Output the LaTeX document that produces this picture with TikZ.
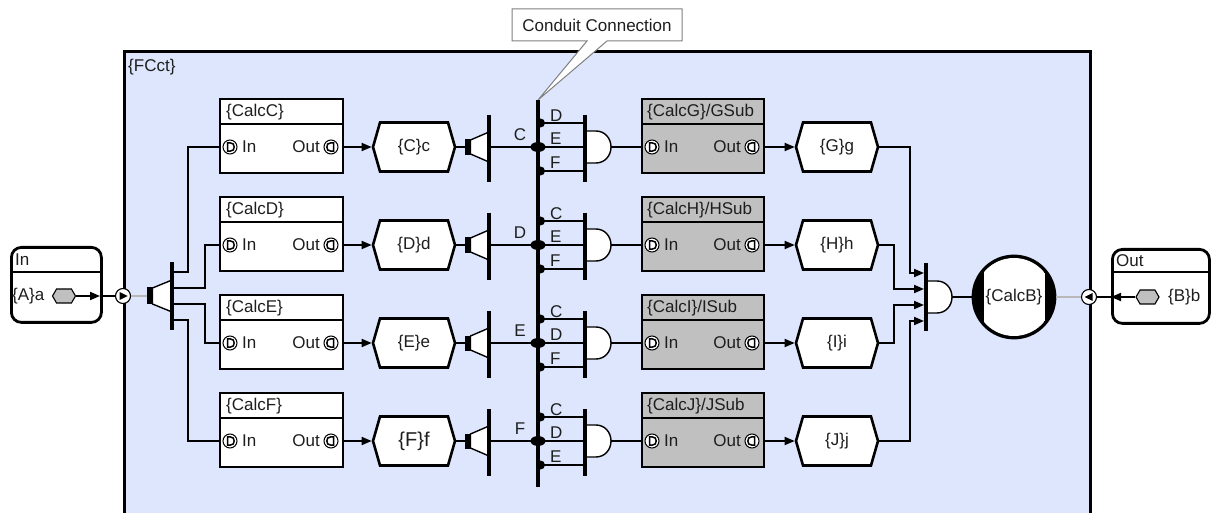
\documentclass[tikz,border=0pt]{standalone}
\usepackage{fontspec}
\setmainfont{Liberation Sans}
\usetikzlibrary{shapes.symbols,arrows.meta,calc}
\definecolor{bgblue}{RGB}{221,230,252}
\definecolor{subgrey}{RGB}{192,192,192}
\definecolor{wiregrey}{RGB}{185,185,185}
\definecolor{txt}{RGB}{30,30,30}
\tikzset{
  dport/.pic={\draw[line width=1pt, fill=white] (0,0) circle (7);
    \draw[line width=1.5pt] (-2.5,-4.2) -- (-2.5,4.2) -- (0,4.2) .. controls (3,4.2) and (4.2,2.4) .. (4.2,0) .. controls (4.2,-2.4) and (3,-4.2) .. (0,-4.2) -- cycle;},
  oport/.pic={\draw[line width=1pt, fill=white] (0,0) circle (7);
    \draw[line width=1.5pt] (2.5,-4.2) -- (2.5,4.2) -- (0,4.2) .. controls (-3,4.2) and (-4.2,2.4) .. (-4.2,0) .. controls (-4.2,-2.4) and (-3,-4.2) .. (0,-4.2) -- cycle;}
}
\begin{document}
\begin{tikzpicture}[x=1pt,y=-1pt,
  every node/.style={font=\fontsize{17}{20}\selectfont, text=txt, inner sep=0pt},
  wire/.style={line width=1.8pt, draw=black},
  greywire/.style={line width=1.8pt, draw=wiregrey},
  arr/.style={wire,-{Triangle[length=10pt,width=8pt]}},
  calcbox/.style={rectangle, draw=black, line width=2.8pt, fill=white, minimum width=123pt, minimum height=74pt},
  subbox/.style={calcbox, fill=subgrey, minimum width=122pt},
  hexa/.style={shape=signal, signal to=west and east, signal pointer angle=148, draw=black, line width=2.6pt, fill=white, minimum width=82pt, minimum height=49pt},
  minihex/.style={shape=signal, signal to=west and east, signal pointer angle=120, draw=black, line width=1.1pt, fill=subgrey, minimum width=23pt, minimum height=14pt},
  busbar/.style={line width=3.8pt, draw=black},
  sep/.style={line width=1.5pt, draw=black},
  portc/.style={circle, draw=black, fill=white, line width=1.1pt, minimum size=15pt},
  outerblk/.style={rectangle, draw=black, line width=2.8pt, rounded corners=10pt, fill=white, anchor=north west},
  gate/.style={line width=1.4pt, draw=black, fill=white}
]
\useasboundingbox (0,0) rectangle (1211,513);
\clip (0,0) rectangle (1211,513);
\fill[white] (0,0) rectangle (1211,513);

% subsystem frame
\node[rectangle, draw=black, line width=2.8pt, fill=bgblue, minimum width=966pt, minimum height=500pt, anchor=north west] (fcct) at (123,50) {};
\node[anchor=west] (fcctlbl) at (128,67) {\{FCct\}};

% callout
\draw[draw=gray, line width=1pt, fill=white] (512,9) -- (682,9) -- (682,41) -- (607,41) -- (538,100) -- (587,41) -- (512,41) -- cycle;
\node (callout) at (597,25) {Conduit Connection};

% conduit bus
\coordinate (busTop) at (538,100);
\coordinate (busBot) at (538,487);
\draw[busbar] (busTop) -- (busBot);

% In block
\node[outerblk, minimum width=90pt, minimum height=75pt] (inblk) at (10,246) {};
\draw[sep] (10,272) -- (100,272);
\node[anchor=west] (inlbl) at (15,260) {In};
\node[anchor=west] (atext) at (12,296) {\{A\}a};
\node[minihex] (ahex) at (64,296) {};
\node[portc] (inport) at (123,296) {};
\fill (119.5,292) -- (127.5,296) -- (119.5,300) -- cycle;
\coordinate (inedge) at (100,296);
\draw[arr] (ahex.east) -- (inedge);
\draw[wire] (inedge) -- (inport.west);

% splitter
\coordinate (splin) at (147,296);
\draw[greywire] (inport.east) -- (splin);
\fill (147,287.5) rectangle (152.5,304.5);
\draw[gate] (152.5,288) -- (172,280) -- (172,312) -- (152.5,304) -- cycle;
\draw[busbar] (172,262) -- (172,330);
\coordinate (so1) at (172,272);
\coordinate (so2) at (172,288);
\coordinate (so3) at (172,304);
\coordinate (so4) at (172,320);

% rows
\foreach \rn/\rl/\ry/\la/\lb/\lc/\on/\ol/\sb/\fs in {C/c/147/D/E/F/G/g/GSub/17, D/d/245/C/E/F/H/h/HSub/17, E/e/343/C/D/F/I/i/ISub/17, F/f/441/C/D/E/J/j/JSub/20}{
  % left calc block
  \node[calcbox] (calc\rn) at (281.5,\ry-11) {};
  \draw[sep] (220,\ry-23) -- (343,\ry-23);
  \node[anchor=west] (ttl\rn) at (226,\ry-35) {\{Calc\rn\}};
  \pic at (230,\ry) {dport};
  \node[anchor=west] (inl\rn) at (242,\ry) {In};
  \node[anchor=east] (outl\rn) at (320,\ry) {Out};
  \pic at (331,\ry) {oport};
  \coordinate (in\rn) at (220,\ry);
  \coordinate (out\rn) at (344,\ry);
  % signal
  \node[hexa, font=\fontsize{\fs}{\fs}\selectfont] (hex\rn) at (414,\ry) {\{\rn\}\rl};
  \draw[arr] (out\rn) -- (hex\rn.west);
  % selector
  \coordinate (sel\rn) at (465,\ry);
  \draw[wire] (hex\rn.east) -- (sel\rn);
  \fill (465,\ry-7.5) rectangle (470.5,\ry+8);
  \draw[gate] (470.5,\ry-7) -- (489,\ry-15) -- (489,\ry+15) -- (470.5,\ry+7) -- cycle;
  \draw[busbar] (489,\ry-32) -- (489,\ry+35);
  \coordinate (selout\rn) at (489,\ry);
  \coordinate (bus\rn) at (538,\ry);
  \draw[wire] (selout\rn) -- (bus\rn);
  \node (bl\rn) at (520,\ry-12) {\rn};
  \fill (bus\rn) ellipse (7.5 and 5);
  \coordinate (busa\rn) at (538,\ry-24);
  \coordinate (busc\rn) at (538,\ry+24);
  \fill (540.5,\ry-24) circle (4.5);
  \fill (540.5,\ry+24) circle (4.5);
  \coordinate (ga\rn) at (585,\ry-24);
  \coordinate (gb\rn) at (585,\ry);
  \coordinate (gc\rn) at (585,\ry+24);
  \draw[wire] (busa\rn) -- (ga\rn);
  \draw[wire] (bus\rn) -- (gb\rn);
  \draw[wire] (busc\rn) -- (gc\rn);
  \node[anchor=west] (lla\rn) at (550,\ry-31) {\la};
  \node[anchor=west] (llb\rn) at (550,\ry-8) {\lb};
  \node[anchor=west] (llc\rn) at (550,\ry+16) {\lc};
  % bus creator gate
  \draw[gate] (586,\ry-16) -- (596,\ry-16) .. controls (604.5,\ry-16) and (611,\ry-9) .. (611,\ry) .. controls (611,\ry+9) and (604.5,\ry+16) .. (596,\ry+16) -- (586,\ry+16) -- cycle;
  \draw[busbar] (585,\ry-32) -- (585,\ry+35);
  \coordinate (gout\rn) at (611,\ry);
  % right sub block
  \node[subbox] (calc\on) at (703,\ry-11) {};
  \draw[sep] (642,\ry-23) -- (764,\ry-23);
  \node[anchor=west] (ttl\on) at (647,\ry-35) {\{Calc\on\}/\sb};
  \pic at (652,\ry) {dport};
  \node[anchor=west] (inl\on) at (664,\ry) {In};
  \node[anchor=east] (outl\on) at (741,\ry) {Out};
  \pic at (752,\ry) {oport};
  \coordinate (in\on) at (642,\ry);
  \coordinate (out\on) at (765,\ry);
  \draw[wire] (gout\rn) -- (in\on);
  \node[hexa] (hex\on) at (837,\ry) {\{\on\}\ol};
  \draw[arr] (out\on) -- (hex\on.west);
}

% splitter to left blocks
\draw[wire] (so1) -- ++(16,0) |- (inC);
\draw[wire] (so2) -- ++(33,0) |- (inD);
\draw[wire] (so3) -- ++(33,0) |- (inE);
\draw[wire] (so4) -- ++(16,0) |- (inF);

% merge
\coordinate (mi1) at (924,273);
\coordinate (mi2) at (924,289);
\coordinate (mi3) at (924,305);
\coordinate (mi4) at (924,321);
\draw[arr] (hexG.east) -- ++(31,0) |- (mi1);
\draw[arr] (hexH.east) -- ++(15,0) |- (mi2);
\draw[arr] (hexI.east) -- ++(15,0) |- (mi3);
\draw[arr] (hexJ.east) -- ++(31,0) |- (mi4);
\draw[gate] (927,281) -- (937,281) .. controls (945.5,281) and (952,288) .. (952,297) .. controls (952,306) and (945.5,313) .. (937,313) -- (927,313) -- cycle;
\draw[busbar] (926,263) -- (926,331);
\coordinate (mout) at (952,297);

% CalcB
\fill (1014,297) circle (41);
\begin{scope}
  \clip (1014,297) circle (39);
  \fill[white] (984,250) rectangle (1045,345);
\end{scope}
\node[circle, draw=black, line width=2.8pt, minimum size=82pt] (calcB) at (1014,297) {\{CalcB\}};
\draw[wire] (mout) -- (calcB.west);

% Out port & block
\node[portc] (outport) at (1089,297) {};
\fill (1092.5,293) -- (1084.5,297) -- (1092.5,301) -- cycle;
\draw[greywire] (calcB.east) -- (outport.west);
\node[outerblk, minimum width=97pt, minimum height=74pt] (outblk) at (1111,248) {};
\draw[sep] (1111,272) -- (1208,272);
\node[anchor=west] (outlbl) at (1116,261) {Out};
\node[minihex] (bhex) at (1147.5,297) {};
\node[anchor=west] (btext) at (1168,297) {\{B\}b};
\coordinate (outedge) at (1111,297);
\draw[arr] (bhex.west) -- (outedge);
\draw[wire] (outedge) -- (outport.east);
\end{tikzpicture}
\end{document}
